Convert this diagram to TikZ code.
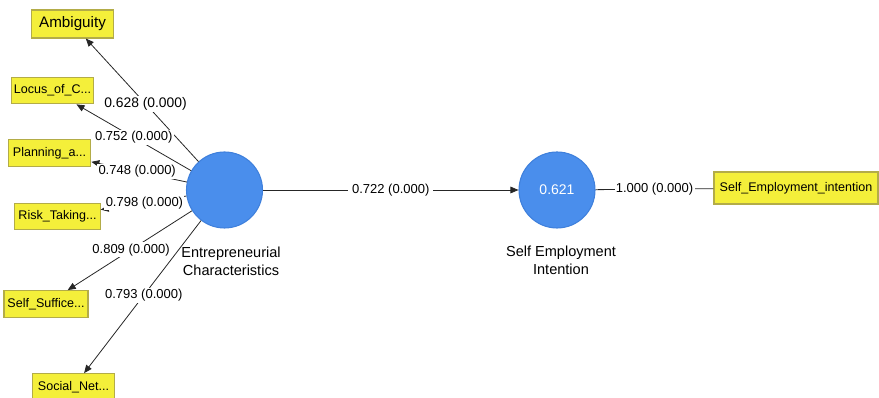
\documentclass[tikz,border=0pt]{standalone}
\usepackage{fontspec}
\setmainfont{Liberation Sans}
\usetikzlibrary{arrows.meta}
\definecolor{ind}{HTML}{F4EF3A}
\definecolor{indb}{HTML}{B3AC48}
\definecolor{lv}{HTML}{4A8EEC}
\definecolor{lvb}{HTML}{3F80DC}
\tikzset{
  ibox/.style={draw=indb, fill=ind, line width=0.8pt, inner sep=0pt, minimum height=#1, font=\fontsize{9.4pt}{11pt}\selectfont},
  ibox/.default=20pt,
  lvar/.style={circle, draw=lvb, fill=lv, line width=0.8pt, minimum size=57pt, inner sep=0pt},
  lname/.style={align=center, font=\fontsize{10.9pt}{13.5pt}\selectfont},
  conn/.style={draw=black!85, line width=0.6pt, -{Triangle[length=6pt,width=5pt]}},
  elab/.style={fill=white, inner sep=1pt, font=\fontsize{9.75pt}{11pt}\selectfont, pos=#1},
  elab/.default=0.5
}
\begin{document}
\begin{tikzpicture}[x=0.75pt,y=-0.75pt]
\useasboundingbox (0,0) rectangle (879,398);
% latent variables
\node[lvar] (ec) at (224.5,190) {};
\node[lvar] (sei) at (557,190) {\color{white}\fontsize{10.5pt}{12pt}\selectfont 0.621};
\node[lname] (ecname) at (231,261) {Entrepreneurial\\Characteristics};
\node[lname] (seiname) at (561,260) {Self Employment\\Intention};
% indicators
\node[ibox=21pt, minimum width=62pt, font=\fontsize{11.4pt}{13pt}\selectfont] (amb) at (72.5,24) {Ambiguity};
\node[ibox, minimum width=62pt] (loc) at (52.5,90.5) {Locus\_of\_C...};
\node[ibox, minimum width=62pt] (pla) at (49.5,153) {Planning\_a...};
\node[ibox, minimum width=64pt] (ris) at (57.5,216.5) {Risk\_Taking...};
\node[ibox, minimum width=63pt] (ssu) at (46,304) {Self\_Suffice...};
\node[ibox, minimum width=62pt] (soc) at (73.5,387) {Social\_Net...};
\node[ibox=24pt, minimum width=123pt] (sei1) at (796,188) {Self\_Employment\_intention};
% connectors
\draw[conn] (ec) -- node[elab=0.47, font=\fontsize{10.4pt}{12pt}\selectfont] {0.628 (0.000)} (amb);
\draw[conn] (ec) -- node[elab=0.5] {0.752 (0.000)} (loc);
\draw[conn] (ec) -- node[elab=0.52] {0.748 (0.000)} (pla);
\draw[conn] (ec) -- node[elab=0.49] {0.798 (0.000)} (ris);
\draw[conn] (ec) -- node[elab=0.49] {0.809 (0.000)} (ssu);
\draw[conn] (ec) -- node[elab=0.49] {0.793 (0.000)} (soc);
\draw[conn] (ec) -- node[elab=0.5, inner sep=3pt] {0.722 (0.000)} (sei);
\draw[draw=black!85, line width=0.6pt] (sei) -- node[elab=0.5, fill=white] {1.000 (0.000)} (sei1);
\end{tikzpicture}
\end{document}
